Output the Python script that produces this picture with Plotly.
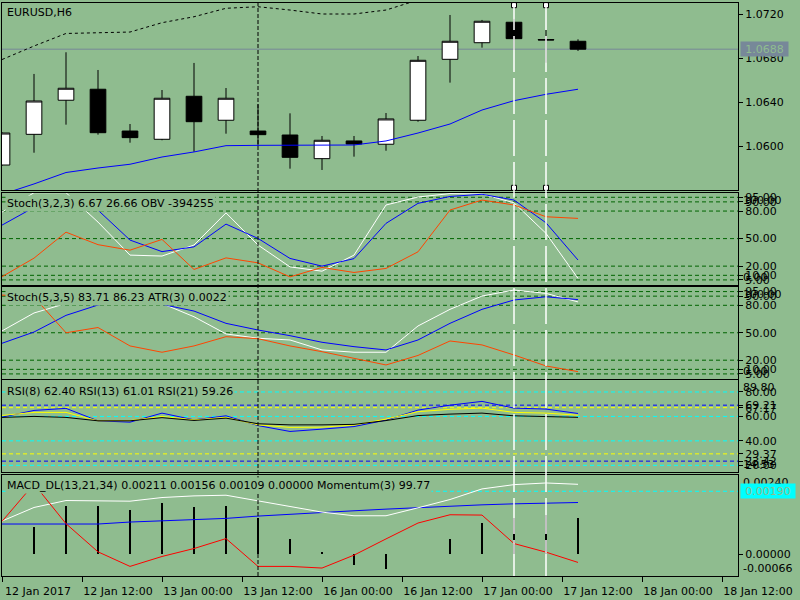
import plotly.graph_objects as go
from plotly.subplots import make_subplots

# EURUSD H6, bar index 0 = 12 Jan 2017 00:00
TIME_LABELS = ["12 Jan 2017", "12 Jan 12:00", "13 Jan 00:00", "13 Jan 12:00", "16 Jan 00:00",
               "16 Jan 12:00", "17 Jan 00:00", "17 Jan 12:00", "18 Jan 00:00", "18 Jan 12:00"]

OPEN = [1.05827, 1.06106, 1.06416, 1.06516, 1.06136, 1.06061, 1.06452, 1.06234, 1.06136, 1.06100,
        1.05885, 1.06046, 1.06016, 1.06234, 1.06788, 1.06939, 1.07125, 1.06968, 1.06952]
HIGH = [1.06125, 1.06655, 1.06852, 1.06691, 1.06200, 1.06509, 1.06755, 1.06527, 1.06379, 1.06297,
        1.06091, 1.06091, 1.06300, 1.06818, 1.07191, 1.07146, 1.07155, 1.07055, 1.06970]
LOW = [1.05820, 1.05939, 1.06194, 1.06103, 1.06030, 1.06052, 1.05948, 1.06112, 1.06000, 1.05794,
       1.05782, 1.05903, 1.05957, 1.06221, 1.06576, 1.06894, 1.06873, 1.06757, 1.06864]
CLOSE = [1.06118, 1.06409, 1.06525, 1.06121, 1.06076, 1.06434, 1.06221, 1.06434, 1.06103, 1.05897,
         1.06052, 1.06018, 1.06246, 1.06779, 1.06952, 1.07134, 1.06976, 1.06964, 1.06880]
MA_LINE = [1.05560, 1.05655, 1.05759, 1.05800, 1.05834, 1.05900, 1.05946, 1.06003, 1.06006, 1.06006,
           1.06006, 1.06009, 1.06046, 1.06118, 1.06200, 1.06327, 1.06412, 1.06470, 1.06516]
UPPER_BAND = [1.06786, 1.06909, 1.07023, 1.07032, 1.07036, 1.07121, 1.07175, 1.07252, 1.07266, 1.07236,
              1.07200, 1.07200, 1.07236, 1.07327, 1.07400, 1.07520, 1.07600, 1.07660, 1.07700]

# Stoch(3,2,3) + OBV
STOCH1_MAIN = [78.9, 100, 100, 68, 32, 31, 43, 78, 43, 19.2, 14.5, 32, 86.6, 95.3, 99, 98.6, 89, 55.7, 6.67]
STOCH1_SIGNAL = [64.7, 84, 93, 81, 48.4, 35.8, 41, 65.8, 50.2, 28.4, 20, 28.2, 66.6, 88.4, 95.9, 98.3, 92, 67.2, 26.66]
OBV_LINE = [8.5, 28.7, 57, 43.4, 37.4, 49.1, 16.4, 29, 23.6, 8.3, 18.6, 13.1, 17.5, 35.6, 81.1, 92, 86.6, 73.8, 72]

# Stoch(5,3,5) + ATR
STOCH2_MAIN = [52, 71.6, 82, 93, 91, 82, 67.5, 48.7, 44, 42.1, 31.2, 28.7, 28.7, 57.4, 75.6, 90.1, 96.7, 93, 83.71]
STOCH2_SIGNAL = [38.5, 50.8, 69, 80.3, 85.7, 81, 73.7, 60.3, 53, 46.8, 39.6, 34.8, 31.2, 42.1, 60.3, 75.6, 85.8, 89.3, 86.23]
ATR_LINE = [91.2, 89, 50, 55.7, 35.6, 28.7, 35.6, 45.7, 43.5, 35.6, 29.3, 22.1, 14.8, 25.2, 41, 36.7, 25.7, 13.7, 7.5]
STOCH_LEVELS = [95, 90, 80, 50, 20, 10, 5]

# RSI
RSI8 = [59.4, 64.9, 66.6, 56.4, 55.3, 62.7, 57.2, 60.5, 52.5, 47.7, 49.6, 51.7, 57, 65.2, 69.2, 72.3, 66.8, 66, 62.40]
RSI13 = [60.8, 63.3, 63.3, 56.4, 56.6, 60, 57.2, 59.2, 53.1, 51, 51.2, 52.9, 57.8, 63.9, 65.8, 66.8, 63.3, 62.7, 61.01]
RSI21 = [59.2, 60, 59.2, 56.4, 56.4, 59, 56.7, 58.6, 54, 53.1, 53.1, 53.5, 56.6, 60.7, 61.9, 62.7, 60.5, 60, 59.26]
RSI_LEVELS_CYAN = [80, 60, 40, 20]
RSI_LEVELS_BLUE = [69.21, 23.42]
RSI_LEVELS_YELLOW = [67.17, 29.37]

# MACD_DL + Momentum (momentum drawn in the window's own scale)
MACD_MAIN = [0.00100, 0.00141, 0.00162, 0.00162, 0.00160, 0.00171, 0.00176, 0.00178, 0.00161, 0.00142,
             0.00127, 0.00116, 0.00116, 0.00140, 0.00165, 0.00197, 0.00210, 0.00215, 0.00211]
MACD_SIGNAL = [0.00091, 0.00091, 0.00091, 0.00091, 0.00097, 0.00100, 0.00103, 0.00108, 0.00115, 0.00121,
               0.00126, 0.00131, 0.00136, 0.00141, 0.00146, 0.00149, 0.00152, 0.00155, 0.00156]
MACD_HIST = [0.0, 0.00084, 0.00145, 0.00145, 0.00133, 0.00154, 0.00143, 0.00146, 0.00109, 0.00046,
             0.00007, -0.00032, -0.00045, 0.0, 0.00046, 0.00094, 0.00109, 0.00119, 0.00109]
MOMENTUM = [0.00099, 0.00212, 0.00092, 0.00007, -0.00037, -0.00007, 0.00017, 0.00047, -0.00037, -0.00037,
            -0.00042, -0.00003, 0.00046, 0.00094, 0.00119, 0.00118, 0.00032, 0.00006, -0.00025]
MACD_LEVEL = 0.0019

SEPARATOR_BARS = [8]
SELECTED_BARS = [16, 17]

HEADERS = ["EURUSD,H6",
           "Stoch(3,2,3) 6.67 26.66 OBV -394255",
           "Stoch(5,3,5) 83.71 86.23 ATR(3) 0.0022",
           "RSI(8) 62.40 RSI(13) 61.01 RSI(21) 59.26",
           "MACD_DL(13,21,34) 0.00211 0.00156 0.00109 0.00000 Momentum(3) 99.77"]

BG = "#8fbc8f"
FONT = "DejaVu Sans"
W, H = 800, 600
M_L, M_R, M_T, M_B = 2, 62, 3, 24
# panel edges in pixels (top, bottom)
PANELS = [(3, 190), (192.7, 284.5), (287, 378.5), (380, 472), (474.7, 576)]
PLOT_H = H - M_T - M_B


def domain(top, bottom):
    return [(H - M_B - bottom) / PLOT_H, (H - M_B - top) / PLOT_H]


bars = list(range(len(CLOSE)))
fig = make_subplots(rows=5, cols=1, shared_xaxes=True, vertical_spacing=0.01)

# main window
fig.add_trace(go.Candlestick(
    x=bars, open=OPEN, high=HIGH, low=LOW, close=CLOSE,
    increasing=dict(line=dict(color="black", width=1), fillcolor="white"),
    decreasing=dict(line=dict(color="black", width=1), fillcolor="black"),
    whiskerwidth=0, showlegend=False), row=1, col=1)
fig.add_trace(go.Scatter(x=bars, y=UPPER_BAND, mode="lines",
                         line=dict(color="black", width=1, dash="3px,3px")), row=1, col=1)
fig.add_trace(go.Scatter(x=bars, y=MA_LINE, mode="lines", line=dict(color="#0000ff", width=1)), row=1, col=1)

# stochastics
for row, main, sig, extra in [(2, STOCH1_MAIN, STOCH1_SIGNAL, OBV_LINE), (3, STOCH2_MAIN, STOCH2_SIGNAL, ATR_LINE)]:
    fig.add_trace(go.Scatter(x=bars, y=main, mode="lines", line=dict(color="white", width=1)), row=row, col=1)
    fig.add_trace(go.Scatter(x=bars, y=sig, mode="lines", line=dict(color="#0000ff", width=1)), row=row, col=1)
    fig.add_trace(go.Scatter(x=bars, y=extra, mode="lines", line=dict(color="#ff4500", width=1)), row=row, col=1)
    for lv in STOCH_LEVELS:
        fig.add_hline(y=lv, row=row, col=1, layer="below",
                      line=dict(color="#006400", width=1, dash="4px,3px"))

# RSI
fig.add_trace(go.Scatter(x=bars, y=RSI8, mode="lines", line=dict(color="#0000ff", width=1)), row=4, col=1)
fig.add_trace(go.Scatter(x=bars, y=RSI13, mode="lines", line=dict(color="#ffff00", width=1)), row=4, col=1)
fig.add_trace(go.Scatter(x=bars, y=RSI21, mode="lines", line=dict(color="black", width=1)), row=4, col=1)
for levels, color in [(RSI_LEVELS_CYAN, "#00ffff"), (RSI_LEVELS_BLUE, "#0000ff"), (RSI_LEVELS_YELLOW, "#ffff00")]:
    for lv in levels:
        fig.add_hline(y=lv, row=4, col=1, layer="below", line=dict(color=color, width=1, dash="4px,3px"))

# MACD
fig.add_trace(go.Bar(x=bars, y=MACD_HIST, width=0.03, marker=dict(color="black", line_width=0)), row=5, col=1)
fig.add_trace(go.Scatter(x=bars, y=MACD_SIGNAL, mode="lines", line=dict(color="#0000ff", width=1)), row=5, col=1)
fig.add_trace(go.Scatter(x=bars, y=MACD_MAIN, mode="lines", line=dict(color="white", width=1)), row=5, col=1)
fig.add_trace(go.Scatter(x=bars, y=MOMENTUM, mode="lines", line=dict(color="#ff0000", width=1)), row=5, col=1)
fig.add_hline(y=MACD_LEVEL, row=5, col=1, layer="below", line=dict(color="#00ffff", width=1, dash="4px,3px"))

# bid line
fig.add_hline(y=CLOSE[-1], row=1, col=1, layer="below", line=dict(color="#778899", width=1))

# vertical separators / selected lines across all windows
for b in SEPARATOR_BARS:
    fig.add_shape(type="line", xref="x5", yref="paper", x0=b, x1=b, y0=0, y1=1,
                  line=dict(color="black", width=1, dash="4px,2px"))
for b in SELECTED_BARS:
    fig.add_shape(type="line", xref="x5", yref="paper", x0=b, x1=b, y0=0, y1=1,
                  line=dict(color="white", width=1.5, dash="36px,6px"))

PRICE_RANGE = [1.0560, 1.0730]
fig.add_trace(go.Scatter(
    x=SELECTED_BARS * 2,
    y=[PRICE_RANGE[1] - 0.0002] * len(SELECTED_BARS) + [PRICE_RANGE[0] + 0.0002] * len(SELECTED_BARS),
    mode="markers", cliponaxis=False,
    marker=dict(symbol="square", size=5, color="white", line=dict(color="black", width=1))), row=1, col=1)

# axes
ranges = [PRICE_RANGE, [0, 100], [0, 100], [14.53, 89.80], [-0.00066, 0.0024]]
ticks = [
    ([1.0720, 1.0680, 1.0640, 1.0600], "{:.4f}"),
    (STOCH_LEVELS, "{:.2f}"),
    (STOCH_LEVELS, "{:.2f}"),
    (RSI_LEVELS_CYAN + RSI_LEVELS_BLUE + RSI_LEVELS_YELLOW, "{:.2f}"),
    ([0.0], "{:.5f}"),
]
extremes = [None, ("100.00", "0.00"), ("100.00", "0.00"), ("89.80", "14.53"), ("0.00240", "-0.00066")]

axis_font = dict(family=FONT, size=11, color="black")
for i in range(5):
    vals, fmt = ticks[i]
    yname = "yaxis" if i == 0 else f"yaxis{i + 1}"
    fig.update_layout({yname: dict(
        domain=domain(*PANELS[i]), range=ranges[i], side="right",
        tickvals=vals, ticktext=[fmt.format(v) for v in vals],
        ticks="outside", ticklen=4, tickcolor="black", tickfont=axis_font,
        showline=True, linecolor="black", linewidth=1, mirror=True,
        showgrid=False, zeroline=False, fixedrange=True)})
    ex = extremes[i]
    if ex:
        yref = "y" if i == 0 else f"y{i + 1}"
        for txt, yv, anchor in [(ex[0], ranges[i][1], "top"), (ex[1], ranges[i][0], "bottom")]:
            fig.add_annotation(text=txt, xref="paper", x=1, xanchor="left", xshift=4,
                               yref=yref, y=yv, yanchor=anchor, showarrow=False,
                               font=axis_font, borderpad=0)

fig.update_xaxes(range=[0, 23], showgrid=False, zeroline=False, showline=True, linecolor="black",
                 linewidth=1, mirror=True, rangeslider_visible=False, showticklabels=False, ticks="",
                 fixedrange=True)
fig.update_xaxes(row=5, col=1, showticklabels=True, ticks="outside", ticklen=5, tickcolor="black",
                 tickvals=[i * 2.5 for i in range(len(TIME_LABELS))], ticktext=TIME_LABELS,
                 tickfont=axis_font, ticklabelshift=36, tickangle=0)

# highlighted price labels on the right scale
for txt, yref, yv, color, width in [("{:.4f}".format(CLOSE[-1]), "y", CLOSE[-1], "#778899", 47),
                                    ("{:.5f}".format(MACD_LEVEL), "y5", MACD_LEVEL, "#00ffff", 54)]:
    fig.add_annotation(text=txt, xref="paper", x=1, xanchor="left", xshift=2,
                       yref=yref, y=yv, yanchor="middle", showarrow=False,
                       font=dict(family=FONT, size=11, color=BG), bgcolor=color,
                       width=width, height=14, borderpad=0)

# window headers
header_offsets = [9, 10.5, 10.5, 12, 10.5]
for i, txt in enumerate(HEADERS):
    fig.add_annotation(text=txt, xref="paper", x=0, xanchor="left", xshift=3,
                       yref="paper", y=domain(*PANELS[i])[1], yanchor="middle",
                       yshift=-header_offsets[i], showarrow=False, bgcolor=BG, borderpad=1,
                       font=dict(family=FONT, size=11, color="black"))

fig.update_layout(
    width=W, height=H,
    margin=dict(l=M_L, r=M_R, t=M_T, b=M_B),
    paper_bgcolor=BG, plot_bgcolor=BG,
    showlegend=False, boxgap=0.3, bargap=0,
    font=dict(family=FONT, size=11, color="black"),
)

# the page body has a default 8px margin; drop it so the chart sits at the window corner
fig.write_html("out.html", config={"displayModeBar": False},
               post_script="document.body.style.margin='0px';")
